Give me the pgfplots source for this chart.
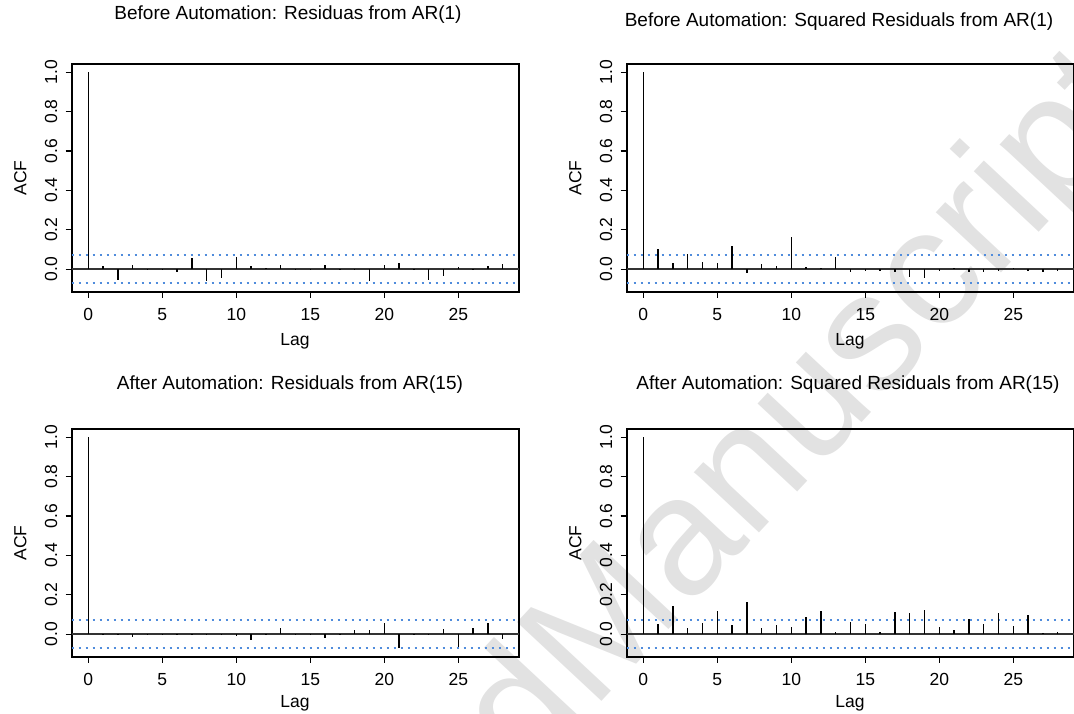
\documentclass[border=0pt]{standalone}
\usepackage{fontspec}
\setmainfont{Liberation Sans}
\usepackage{pgfplots}
\pgfplotsset{compat=1.18}

\definecolor{ciblue}{RGB}{80,140,220}
\definecolor{wmark}{RGB}{226,226,226}

% one style for all four ACF panels (R plot.acf look)
\pgfplotsset{acf/.style={
  scale only axis, width=223.8pt, height=114pt,
  xmin=-1.12, xmax=29.12, ymin=-0.1143, ymax=1.0429,
  axis line style={line width=0.9pt},
  xtick={0,5,10,15,20,25}, ytick={0,0.2,0.4,0.6,0.8,1.0},
  tick align=outside, major tick length=3pt,
  every tick/.style={black, line width=0.6pt},
  xtick pos=bottom, ytick pos=left,
  /pgf/number format/assume math mode=true,
  ticklabel style={font=\fontsize{8.75}{10}\selectfont},
  xticklabel style={inner sep=0pt, anchor=north},
  xticklabel shift=5pt,
  yticklabel style={inner sep=0pt, rotate=90, anchor=south,
    /pgf/number format/.cd, fixed, fixed zerofill, precision=1},
  yticklabel shift=4pt,
}}
\pgfplotsset{spike/.style={ycomb, black, line width=0.65pt, mark=none}}

\newcommand{\bands}{%
  \addplot[black!80, line width=0.7pt] coordinates {(-1.12,0) (29.12,0)};
  \addplot[ciblue, line width=0.7pt, dash pattern=on 1.1pt off 2.4pt] coordinates {(-1.12,0.071) (29.12,0.071)};
  \addplot[ciblue, line width=0.7pt, dash pattern=on 1.1pt off 2.4pt] coordinates {(-1.12,-0.071) (29.12,-0.071)};
}

\begin{document}
\begin{tikzpicture}
\useasboundingbox (0,0) rectangle (537pt,356.5pt);

% watermark, behind everything
\begin{scope}[shift={(0,356.5pt)}, x=0.5pt, y=-0.5pt]
\node[wmark, rotate=47, anchor=base west, inner sep=0pt, font=\fontsize{84}{84}\selectfont] at (592,712) {Manuscript};
\node[wmark, rotate=47, anchor=base east, inner sep=0pt, font=\fontsize{84}{84}\selectfont] at (592,712) {Accepted\ };
\end{scope}

% Before Automation: residuals
\begin{axis}[acf, at={(35.85pt,210.65pt)}, anchor=south west]
\bands
\addplot[spike] table {
lag acf
0 1.000
1 0.017
2 -0.056
3 0.019
4 0.003
5 0.003
6 -0.013
7 0.058
8 -0.058
9 -0.044
10 0.063
11 0.015
12 0.007
13 0.019
14 0.003
15 0.003
16 0.022
17 0.002
18 0.002
19 -0.061
20 0.022
21 0.032
22 0.003
23 -0.054
24 -0.036
25 0.010
26 0.003
27 0.015
28 0.027
};
\end{axis}

% Before Automation: squared residuals
\begin{axis}[acf, at={(313.35pt,210.65pt)}, anchor=south west]
\bands
\addplot[spike] table {
lag acf
0 1.000
1 0.100
2 0.029
3 0.076
4 0.034
5 0.032
6 0.120
7 -0.020
8 0.024
9 0.017
10 0.161
11 0.010
12 0.008
13 0.064
14 -0.012
15 -0.008
16 -0.008
17 -0.014
18 -0.039
19 -0.044
20 -0.007
21 0.007
22 -0.012
23 -0.015
24 -0.010
25 0.008
26 -0.010
27 -0.012
28 -0.010
};
\end{axis}

% After Automation: residuals
\begin{axis}[acf, at={(35.85pt,28.15pt)}, anchor=south west]
\bands
\addplot[spike] table {
lag acf
0 1.000
1 0.003
2 -0.003
3 -0.013
4 -0.005
5 0.003
6 0.003
7 0.002
8 -0.004
9 -0.003
10 -0.010
11 -0.029
12 -0.003
13 0.029
14 0.003
15 -0.003
16 -0.017
17 0.002
18 0.020
19 0.019
20 0.059
21 -0.069
22 -0.002
23 -0.005
24 0.024
25 -0.066
26 0.030
27 0.058
28 -0.024
};
\end{axis}

% After Automation: squared residuals
\begin{axis}[acf, at={(313.35pt,28.15pt)}, anchor=south west]
\bands
\addplot[spike] table {
lag acf
0 1.000
1 0.050
2 0.141
3 0.029
4 0.056
5 0.116
6 0.045
7 0.165
8 0.030
9 0.045
10 0.039
11 0.086
12 0.118
13 0.013
14 0.061
15 0.052
16 0.012
17 0.113
18 0.108
19 0.125
20 0.035
21 0.020
22 0.077
23 0.054
24 0.109
25 0.044
26 0.098
27 0.005
28 0.012
};
\end{axis}

% titles and axis labels, placed in reference pixel coordinates
\begin{scope}[shift={(0,356.5pt)}, x=0.5pt, y=-0.5pt,
  every node/.style={inner sep=0pt}]
\node[font=\fontsize{9.5}{11}\selectfont] at (288,15) {Before Automation: Residuas from AR(1)};
\node[font=\fontsize{9.5}{11}\selectfont] at (839,22) {Before Automation: Squared Residuals from AR(1)};
\node[font=\fontsize{9.5}{11}\selectfont] at (290,385) {After Automation: Residuals from AR(15)};
\node[font=\fontsize{9.5}{11}\selectfont] at (848,385) {After Automation: Squared Residuals from AR(15)};
\foreach \x/\y in {295/333, 850/333, 295/695, 850/695}
  \node[anchor=north, font=\fontsize{8.75}{10}\selectfont] at (\x,\y) {Lag};
\foreach \x/\y in {27/178, 582/178, 27/543, 582/543}
  \node[rotate=90, anchor=south, font=\fontsize{8.75}{10}\selectfont] at (\x,\y) {ACF};
\end{scope}
\end{tikzpicture}
\end{document}
